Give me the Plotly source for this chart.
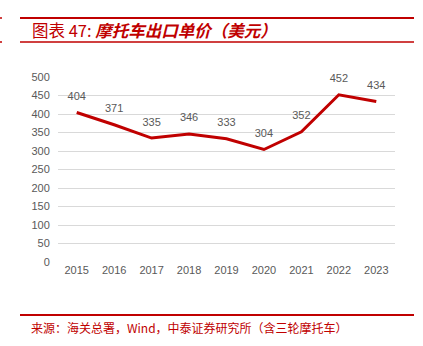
import plotly.graph_objects as go

years = ["2015", "2016", "2017", "2018", "2019", "2020", "2021", "2022", "2023"]
prices = [404, 371, 335, 346, 333, 304, 352, 452, 434]
y_ticks = [0, 50, 100, 150, 200, 250, 300, 350, 400, 450, 500]

title_prefix = "图表 47:"
title_main = "摩托车出口单价（美元）"
source_text = "来源：海关总署，Wind，中泰证券研究所（含三轮摩托车）"

RED = "#c00000"
GREY = "#595959"
W, H = 423, 346
L, R, T, B = 58, 28, 77, 84
PW, PH = W - L - R, H - T - B

fig = go.Figure()
fig.add_trace(go.Scatter(
    x=years, y=prices, mode="lines+markers+text",
    line=dict(color=RED, width=3),
    marker=dict(size=14, opacity=0, color=RED),
    text=[str(v) for v in prices], textposition="top center",
    textfont=dict(family="Arial, Liberation Sans", size=11, color=GREY),
    cliponaxis=False, hoverinfo="skip",
))

fig.update_layout(
    width=W, height=H,
    margin=dict(l=L, r=R, t=T, b=B),
    paper_bgcolor="white", plot_bgcolor="white",
    showlegend=False,
    xaxis=dict(type="category", range=[-0.5, len(years) - 0.5], autorange=False,
               showgrid=False, showline=False, ticks="",
               tickfont=dict(family="Arial, Liberation Sans", size=11, color=GREY)),
    yaxis=dict(range=[0, 500], tickvals=y_ticks, showgrid=True, gridcolor="#d9d9d9",
               gridwidth=1, zeroline=False, showline=False, ticks="outside", ticklen=5,
               tickcolor="rgba(0,0,0,0)",
               tickfont=dict(family="Arial, Liberation Sans", size=11, color=GREY)),
)

def px_x(x):
    return (x - L) / PW

def px_y(y):
    return (H - B - y) / PH

shapes = []
for y, w in [(18, 2), (42, 1.5), (315, 2)]:
    shapes.append(dict(type="line", xref="paper", yref="paper",
                       x0=px_x(20), x1=px_x(414), y0=px_y(y), y1=px_y(y),
                       line=dict(color=RED, width=w)))
for y in [18, 42]:
    shapes.append(dict(type="line", xref="paper", yref="paper",
                       x0=px_x(0), x1=px_x(2), y0=px_y(y), y1=px_y(y),
                       line=dict(color=RED, width=1.5)))
fig.update_layout(shapes=shapes)

fig.add_annotation(
    xref="paper", yref="paper", x=px_x(30), y=px_y(30), xanchor="left", yanchor="middle",
    text=f"{title_prefix} <i><b>{title_main}</b></i>", showarrow=False,
    font=dict(family="Noto Sans CJK SC", size=16.5, color=RED),
)
fig.add_annotation(
    xref="paper", yref="paper", x=px_x(29), y=px_y(327), xanchor="left", yanchor="middle",
    text=source_text, showarrow=False,
    font=dict(family="Noto Sans CJK SC", size=12, color=RED),
)

fig.write_html("out.html")
